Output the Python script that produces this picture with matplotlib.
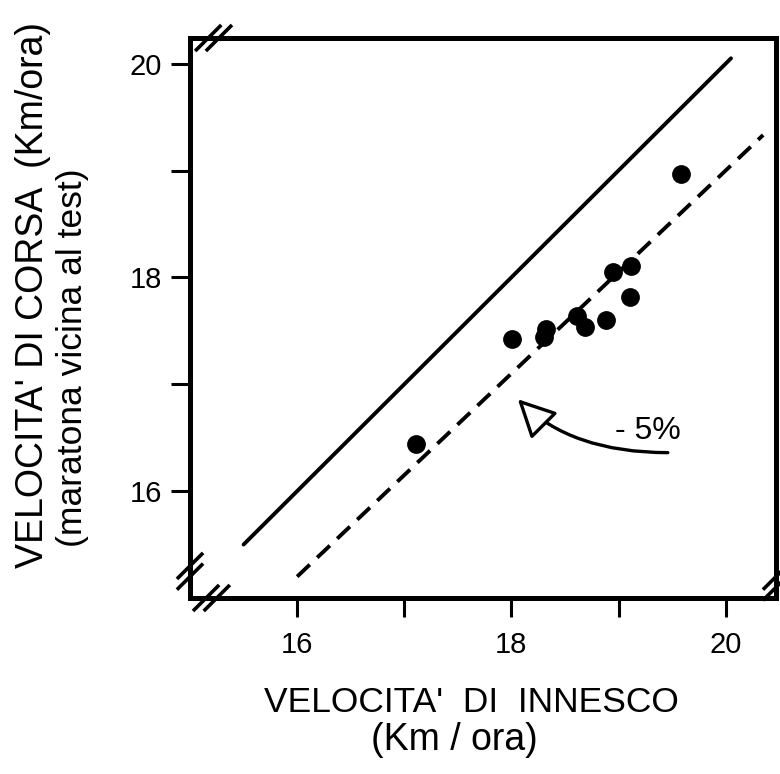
import matplotlib.pyplot as plt
from matplotlib.patches import FancyArrowPatch
import numpy as np

plt.rcParams['font.family'] = ['Liberation Sans', 'DejaVu Sans']

# --- data ---
innesco = [17.11, 18.01, 18.32, 18.30, 18.61, 18.69, 18.88, 18.95, 19.12, 19.11, 19.58]
corsa = [16.44, 17.42, 17.52, 17.44, 17.64, 17.54, 17.60, 18.05, 18.11, 17.82, 18.97]

ident_x = np.array([15.5, 20.05])     # solid line y = x
meno5_x = np.array([16.0, 20.35])     # dashed line, 5% lower
calo = 0.95

xticks_all = [16, 17, 18, 19, 20]
xtick_labels = ['16', '', '18', '', '20']
yticks_all = [16, 17, 18, 19, 20]
ytick_labels = ['16', '', '18', '', '20']

W, H = 780, 774
fig = plt.figure(figsize=(W / 100, H / 100), dpi=100)
ax = fig.add_axes([190 / W, 1 - 598 / H, 586 / W, 560 / H])

ax.plot(ident_x, ident_x, color='black', lw=2.8, solid_capstyle='round')
ax.plot(meno5_x, calo * meno5_x, color='black', lw=2.8, dashes=(4.5, 2.6))
ax.plot(innesco, corsa, 'o', color='black', ms=12.5)

# curved arrow with open head
arr = FancyArrowPatch((19.46, 16.36), (18.06, 16.86),
                      connectionstyle='angle3,angleA=0,angleB=-45',
                      arrowstyle='-|>,head_length=0.9,head_width=0.45',
                      mutation_scale=26, lw=2.4, ec='black', fc='white',
                      shrinkA=0, shrinkB=0)
ax.add_patch(arr)
ax.text(19.27, 16.56, '- 5%', fontsize=23, ha='center', va='center')

ax.set_xlim(15.0, 20.47)
ax.set_ylim(15.0, 20.24)
ax.set_xticks(xticks_all)
ax.set_xticklabels(xtick_labels)
ax.set_yticks(yticks_all)
ax.set_yticklabels(ytick_labels)
ax.tick_params(direction='out', length=14, width=2.2, labelsize=21, pad=6)
ax.tick_params(axis='x', pad=10)
for s in ax.spines.values():
    s.set_linewidth(3.6)
    s.set_capstyle('projecting')

# axis break marks (double slashes)
def slashes(x, y, horiz):
    d = 0.11
    off = 0.05
    for k in (-1, 1):
        if horiz:
            xs = x + k * off
            ax.plot([xs - d, xs + d], [y - d, y + d], color='black', lw=2.6,
                    clip_on=False, zorder=5)
        else:
            ys = y + k * off
            ax.plot([x - d, x + d], [ys - d, ys + d], color='black', lw=2.6,
                    clip_on=False, zorder=5)

slashes(15.22, 20.24, True)
slashes(15.2, 15.0, True)
slashes(15.0, 15.25, False)
slashes(20.47, 15.15, False)

# axis titles
fig.text(33 / W, 1 - 295 / H, "VELOCITA' DI CORSA  (Km/ora)", rotation=90,
         fontsize=27, ha='center', va='center')
fig.text(73 / W, 1 - 358 / H, "(maratona vicina al test)", rotation=90,
         fontsize=25.5, ha='center', va='center')
fig.text(471 / W, 1 - 703 / H, "VELOCITA'  DI  INNESCO",
         fontsize=25.5, ha='center', va='center')
fig.text(454 / W, 1 - 740 / H, "(Km / ora)",
         fontsize=27, ha='center', va='center')

fig.savefig('out.png', dpi=100)
